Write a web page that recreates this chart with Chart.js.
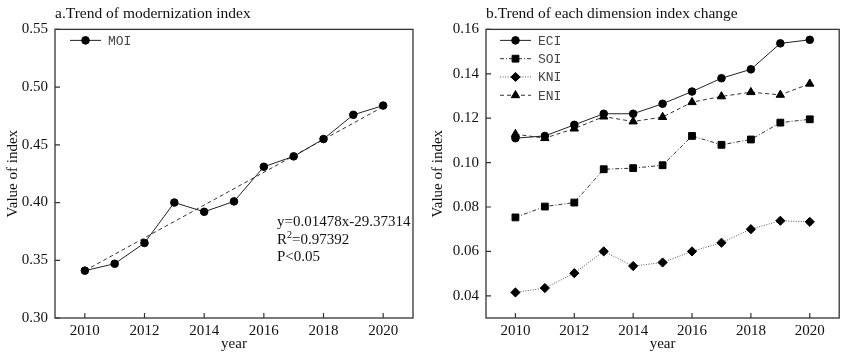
<!DOCTYPE html>
<html>
<head>
<meta charset="utf-8">
<script src="https://cdn.jsdelivr.net/npm/chart.js@4.4.0/dist/chart.umd.min.js"></script>
<style>
  body { margin: 0; background: #fff; }
  .box { position: absolute; top: 0; height: 352px; }
  #left { left: 0; width: 422px; }
  #right { left: 425px; width: 420px; }
</style>
</head>
<body>
<div class="box" id="left"><canvas id="moiChart"></canvas></div>
<div class="box" id="right"><canvas id="dimChart"></canvas></div>
<script>
// values
const years = [2010, 2011, 2012, 2013, 2014, 2015, 2016, 2017, 2018, 2019, 2020];
const moi = [0.341, 0.347, 0.365, 0.400, 0.392, 0.401, 0.431, 0.440, 0.455, 0.476, 0.484];
// ends of the dashed fit line
const trendYears = [2010, 2020];
const trendValues = [0.341, 0.483];

const eci = [0.111, 0.112, 0.117, 0.122, 0.122, 0.1265, 0.132, 0.138, 0.142, 0.1537, 0.1553];
const soi = [0.0753, 0.0802, 0.082, 0.097, 0.0975, 0.0988, 0.112, 0.108, 0.1104, 0.118, 0.1195];
const kni = [0.0415, 0.0435, 0.0502, 0.060, 0.0534, 0.055, 0.060, 0.0639, 0.070, 0.0738, 0.0733];
const eni = [0.1128, 0.111, 0.1153, 0.1207, 0.1185, 0.1205, 0.1272, 0.1298, 0.1317, 0.1305, 0.1355];

const yearTicks = [2010, 2012, 2014, 2016, 2018, 2020];
const moiTicks = [0.30, 0.35, 0.40, 0.45, 0.50, 0.55];
const dimTicks = [0.04, 0.06, 0.08, 0.10, 0.12, 0.14, 0.16];

const fitEquation = 'y=0.01478x-29.37314';
const fitR2 = '0.97392';
const fitP = 'P<0.05';

Chart.defaults.font.family = '"Liberation Serif", "Times New Roman", serif';
Chart.defaults.color = '#111';

const pts = (xs, ys) => xs.map((x, i) => ({ x: x, y: ys[i] }));

// box round the plot plus ticks pointing inwards
const frameTicks = {
  id: 'frameTicks',
  afterDraw(chart) {
    const { ctx, chartArea: a, scales } = chart;
    ctx.save();
    ctx.strokeStyle = '#333';
    ctx.lineWidth = 1.3;
    ctx.strokeRect(a.left, a.top, a.right - a.left, a.bottom - a.top);
    ctx.lineWidth = 1.2;
    ctx.beginPath();
    scales.x.ticks.forEach(t => {
      const px = scales.x.getPixelForValue(t.value);
      ctx.moveTo(px, a.bottom);
      ctx.lineTo(px, a.bottom - 5);
    });
    scales.y.ticks.forEach(t => {
      const py = scales.y.getPixelForValue(t.value);
      ctx.moveTo(a.left, py);
      ctx.lineTo(a.left + 5, py);
    });
    ctx.stroke();
    ctx.restore();
  }
};

// legend with line + marker like the original
const lineLegend = {
  id: 'lineLegend',
  afterDraw(chart, args, opts) {
    const { ctx, chartArea } = chart;
    let y = chartArea.top + opts.top;
    chart.data.datasets.forEach(ds => {
      if (!ds.inLegend) return;
      const x0 = chartArea.left + opts.left;
      const x1 = x0 + opts.lineLength;
      ctx.save();
      ctx.strokeStyle = ds.borderColor;
      ctx.lineWidth = ds.borderWidth;
      ctx.setLineDash(ds.borderDash || []);
      ctx.beginPath();
      ctx.moveTo(x0, y);
      ctx.lineTo(x1, y);
      ctx.stroke();
      ctx.setLineDash([]);
      ctx.fillStyle = ds.pointBackgroundColor;
      ctx.strokeStyle = ds.pointBorderColor;
      Chart.helpers.drawPoint(ctx, { pointStyle: ds.pointStyle, radius: ds.pointRadius, borderWidth: 1, rotation: 0 }, (x0 + x1) / 2, y);
      ctx.fillStyle = '#444';
      ctx.font = '13px "Liberation Mono", monospace';
      ctx.textBaseline = 'middle';
      ctx.fillText(ds.label, x1 + 7, y + 1);
      ctx.restore();
      y += opts.gap;
    });
  }
};

const fitNote = {
  id: 'fitNote',
  afterDraw(chart) {
    const { ctx, chartArea } = chart;
    const x = chartArea.left + 222;
    const y = chartArea.top;
    ctx.save();
    ctx.fillStyle = '#111';
    ctx.textBaseline = 'middle';
    ctx.font = '15px "Liberation Serif"';
    ctx.fillText(fitEquation, x, y + 193);
    ctx.fillText('R', x, y + 211);
    const rw = ctx.measureText('R').width;
    ctx.font = '10px "Liberation Serif"';
    ctx.fillText('2', x + rw, y + 206);
    const sw = ctx.measureText('2').width;
    ctx.font = '15px "Liberation Serif"';
    ctx.fillText('=' + fitR2, x + rw + sw, y + 211);
    ctx.fillText(fitP, x, y + 228);
    ctx.restore();
  }
};

function makeChart(id, datasets, yMin, yMax, yTicks, titleText, yWidth, padRight, legendLeft, extra) {
  return new Chart(document.getElementById(id), {
    type: 'line',
    data: { datasets: datasets },
    options: {
      responsive: true,
      maintainAspectRatio: false,
      animation: false,
      events: [],
      layout: { padding: { left: 0, right: padRight, top: 0, bottom: 0 } },
      plugins: {
        legend: { display: false },
        tooltip: { enabled: false },
        title: {
          display: true,
          text: titleText,
          align: 'start',
          fullSize: false,
          font: { size: 15.5, weight: 'normal', lineHeight: 1.25 },
          color: '#111',
          padding: { top: 4, bottom: 6 }
        },
        lineLegend: { left: legendLeft, top: 11, lineLength: 31, gap: 18.3 }
      },
      scales: {
        x: {
          type: 'linear',
          min: 2009,
          max: 2021,
          afterBuildTicks: s => { s.ticks = yearTicks.map(v => ({ value: v })); },
          afterFit: s => { s.height = 34; },
          grid: { display: false, drawTicks: false },
          border: { display: false },
          ticks: { padding: 4, font: { size: 15 }, color: '#111', callback: v => String(v) },
          title: { display: true, text: 'year', font: { size: 15, lineHeight: 1.1 }, padding: 0, color: '#111' }
        },
        y: {
          min: yMin,
          max: yMax,
          afterBuildTicks: s => { s.ticks = yTicks.map(v => ({ value: v })); },
          afterFit: s => { s.width = yWidth; },
          grid: { display: false, drawTicks: false },
          border: { display: false },
          ticks: { padding: 7, font: { size: 15 }, color: '#111', callback: v => v.toFixed(2) },
          title: { display: true, text: 'Value of index', font: { size: 15, lineHeight: 1.1 }, padding: { top: 5, bottom: 0 }, color: '#111' }
        }
      }
    },
    plugins: [frameTicks, lineLegend].concat(extra || [])
  });
}

makeChart('moiChart', [
  {
    label: 'MOI', data: pts(years, moi), inLegend: true,
    borderColor: '#222', borderWidth: 1, tension: 0,
    pointStyle: 'circle', pointRadius: 3.8, pointBackgroundColor: '#000', pointBorderColor: '#000'
  },
  {
    label: 'fit', data: pts(trendYears, trendValues),
    borderColor: '#333', borderWidth: 1, borderDash: [4, 3], pointRadius: 0, tension: 0
  }
], 0.30, 0.55, moiTicks, 'a.Trend of modernization index', 55, 9, 15, [fitNote]);

makeChart('dimChart', [
  {
    label: 'ECI', data: pts(years, eci), inLegend: true,
    borderColor: '#222', borderWidth: 1, tension: 0,
    pointStyle: 'circle', pointRadius: 3.8, pointBackgroundColor: '#000', pointBorderColor: '#000'
  },
  {
    label: 'SOI', data: pts(years, soi), inLegend: true,
    borderColor: '#333', borderWidth: 1, borderDash: [4, 2, 1, 2], tension: 0,
    pointStyle: 'rect', pointRadius: 4.8, pointBackgroundColor: '#000', pointBorderColor: '#000'
  },
  {
    label: 'KNI', data: pts(years, kni), inLegend: true,
    borderColor: '#555', borderWidth: 1, borderDash: [1, 1.5], tension: 0,
    pointStyle: 'rectRot', pointRadius: 4.6, pointBackgroundColor: '#000', pointBorderColor: '#000'
  },
  {
    label: 'ENI', data: pts(years, eni), inLegend: true,
    borderColor: '#333', borderWidth: 1, borderDash: [4, 3], tension: 0,
    pointStyle: 'triangle', pointRadius: 4.8, pointBackgroundColor: '#000', pointBorderColor: '#000'
  }
], 0.03, 0.16, dimTicks, 'b.Trend of each dimension index change', 61, 2, 14);
</script>
</body>
</html>
